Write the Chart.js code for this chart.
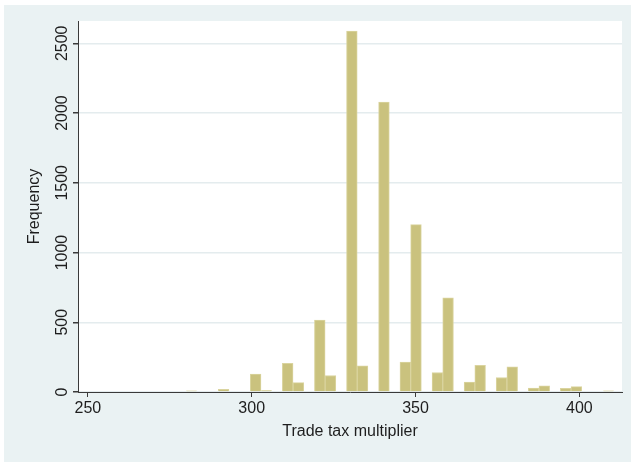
<!DOCTYPE html>
<html>
<head>
<meta charset="utf-8">
<script src="https://cdn.jsdelivr.net/npm/chart.js@4.4.0/dist/chart.umd.min.js"></script>
<style>
  html, body { margin: 0; padding: 0; background: #ffffff; }
  #chart { display: block; }
</style>
</head>
<body>
<canvas id="chart" width="631" height="463"></canvas>
<script>
// histogram bins (centres) and counts
const binCenters = [
  281.63, 284.89, 288.16, 291.42, 294.68, 297.94, 301.21, 304.47, 307.73, 310.99,
  314.26, 317.52, 320.78, 324.04, 327.31, 330.57, 333.83, 337.09, 340.36, 343.62,
  346.88, 350.14, 353.41, 356.67, 359.93, 363.19, 366.46, 369.72, 372.98, 376.24,
  379.51, 382.77, 386.03, 389.29, 392.56, 395.82, 399.08, 402.34, 405.61, 408.87
];
const frequencies = [
  9, 0, 0, 20, 0, 0, 128, 10, 0, 205,
  67, 0, 515, 118, 0, 2588, 188, 0, 2078, 0,
  215, 1200, 0, 140, 675, 0, 72, 191, 0, 104,
  181, 0, 28, 45, 0, 26, 38, 0, 0, 8
];
const xTicks = [250, 300, 350, 400];
const yTicks = [0, 500, 1000, 1500, 2000, 2500];

const FONT = "'Liberation Sans', Arial, sans-serif";
const TEXT = "#1e1e1e";
const AXIS = "#3a3a3a";

// outer light-blue region and white plot area
const backgroundPlugin = {
  id: "background",
  beforeDraw(chart) {
    const { ctx, chartArea } = chart;
    ctx.save();
    ctx.fillStyle = "#ffffff";
    ctx.fillRect(0, 0, chart.width, chart.height);
    ctx.fillStyle = "#eaf2f3";
    ctx.fillRect(4, 5, chart.width - 4, chart.height - 6);
    ctx.fillStyle = "#ffffff";
    ctx.fillRect(chartArea.left, chartArea.top,
      chartArea.right - chartArea.left, chartArea.bottom - chartArea.top);
    ctx.restore();
  }
};

const ctx = document.getElementById("chart").getContext("2d");

new Chart(ctx, {
  type: "bar",
  data: {
    datasets: [{
      label: "Frequency",
      data: binCenters.map((x, i) => ({ x: x, y: frequencies[i] })),
      backgroundColor: "#cac27e",
      borderColor: "#dad49f",
      borderWidth: 1,
      barPercentage: 1,
      categoryPercentage: 1
    }]
  },
  options: {
    responsive: false,
    animation: false,
    layout: { padding: { left: 4, top: 21, right: 9, bottom: 0 } },
    plugins: {
      legend: { display: false },
      tooltip: { enabled: false }
    },
    scales: {
      x: {
        type: "linear",
        min: 247,
        max: 413,
        offset: false,
        afterBuildTicks: (s) => { s.ticks = xTicks.map(v => ({ value: v })); },
        afterFit: (s) => { s.height = 71; },
        grid: {
          offset: false,
          drawOnChartArea: false,
          tickLength: 5,
          tickColor: AXIS
        },
        border: { display: true, color: AXIS, width: 1 },
        ticks: {
          font: { family: FONT, size: 16 },
          color: TEXT,
          padding: 2.4,
          maxRotation: 0,
          callback: (v) => String(v)
        },
        title: {
          display: true,
          text: "Trade tax multiplier",
          font: { family: FONT, size: 16 },
          color: TEXT,
          padding: { top: 0, bottom: 21.4 }
        }
      },
      y: {
        min: 0,
        max: 2660,
        afterBuildTicks: (s) => { s.ticks = yTicks.map(v => ({ value: v })); },
        afterFit: (s) => { s.width = 74; },
        grid: {
          color: "#e4ecee",
          lineWidth: 1.5,
          tickLength: 5,
          tickColor: AXIS
        },
        border: { display: true, color: AXIS, width: 1 },
        ticks: {
          font: { family: FONT, size: 16 },
          color: TEXT,
          minRotation: 90,
          maxRotation: 90,
          crossAlign: "center",
          padding: -7.8,
          callback: (v) => String(v)
        },
        title: {
          display: true,
          text: "Frequency",
          font: { family: FONT, size: 16 },
          color: TEXT,
          padding: { top: 21.4, bottom: 0 }
        }
      }
    }
  },
  plugins: [backgroundPlugin]
});
</script>
</body>
</html>
